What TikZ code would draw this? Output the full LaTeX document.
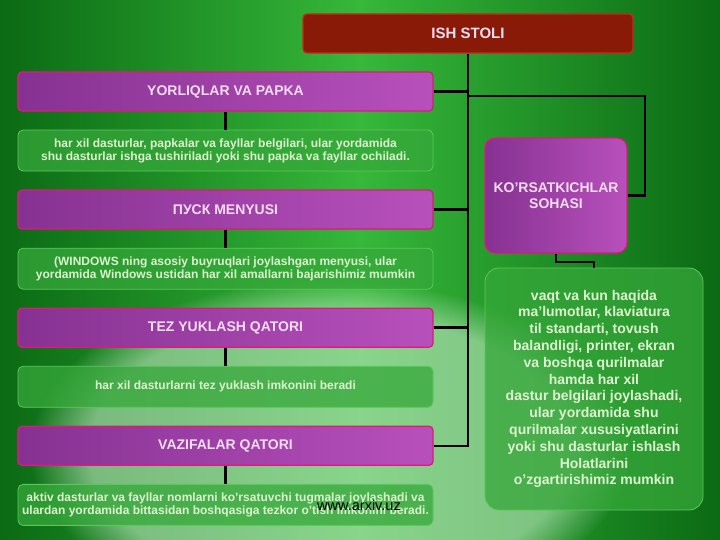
\documentclass[tikz,border=0pt]{standalone}
\usepackage{fontspec}
\setsansfont{Liberation Sans}
\usetikzlibrary{positioning,fadings}
\definecolor{bgdark}{HTML}{0B6A14}
\definecolor{bgmid}{HTML}{36B83A}
\definecolor{plum}{HTML}{863292}
\definecolor{plumlight}{HTML}{B850BC}
\definecolor{rim}{HTML}{E0187C}
\definecolor{rust}{HTML}{8A1A08}
\definecolor{rustrim}{HTML}{C8281A}
\definecolor{leaf}{HTML}{36A83A}
\definecolor{leafrim}{HTML}{5CC85C}
\definecolor{pale}{HTML}{DDF2CF}
\definecolor{blush}{HTML}{F4DDF2}

\begin{document}
\begin{tikzpicture}[x=1pt,y=1pt,
						head/.style={rectangle,rounded corners=4pt,draw=rim,line width=1.3pt,left color=plum,right color=plumlight,text=blush,font=\sffamily\bfseries\fontsize{14}{16}\selectfont,minimum width=415pt,minimum height=39pt,inner sep=2pt},
						note/.style={rectangle,rounded corners=5pt,draw=leafrim,line width=0.8pt,fill=leaf,fill opacity=0.75,text opacity=1,text=pale,font=\sffamily\bfseries\fontsize{12}{13}\selectfont,align=center,minimum width=415pt,minimum height=41pt,inner sep=2pt},
						root/.style={rectangle,rounded corners=4pt,draw=rustrim,line width=1.3pt,fill=rust,text=blush,font=\sffamily\bfseries\fontsize{15}{17}\selectfont,minimum width=330pt,minimum height=39pt},
						link/.style={line width=2.6pt,black}]
		\useasboundingbox (0,0) rectangle (720,-540);
		\fill[left color=bgdark,right color=bgdark,middle color=bgmid] (0,0) rectangle (720,-540);
		\fill[white!75!bgmid,path fading=circle with fuzzy edge 20 percent,opacity=0.55] (330,-450) ellipse (300 and 170);

		\node[root]										(0)	at (468,-33.5)	{ISH STOLI};
		\node[head]										(1)	at (225.5,-91.5)	{YORLIQLAR VA PAPKA};
		\node[note,node distance=18pt,below=of 1]		(2)	{har xil dasturlar, papkalar va fayllar belgilari, ular yordamida\\shu dasturlar ishga tushiriladi yoki shu papka va fayllar ochiladi.};
		\node[head,node distance=18pt,below=of 2]		(3)	{ПУСК MENYUSI};
		\node[note,node distance=18pt,below=of 3]		(4)	{(WINDOWS ning asosiy buyruqlari joylashgan menyusi, ular\\yordamida Windows ustidan har xil amallarni bajarishimiz mumkin};
		\node[head,node distance=18pt,below=of 4]		(5)	{TEZ YUKLASH QATORI};
		\node[note,node distance=18pt,below=of 5]		(6)	{har xil dasturlarni tez yuklash imkonini beradi};
		\node[head,node distance=18pt,below=of 6]		(7)	{VAZIFALAR QATORI};
		\node[note,node distance=18pt,below=of 7]		(8)	{aktiv dasturlar va fayllar nomlarni ko'rsatuvchi tugmalar joylashadi va\\ulardan yordamida bittasidan boshqasiga tezkor o'tish imkonini beradi.};
		\node[head,rounded corners=10pt,minimum width=142pt,minimum height=115pt,align=center]	(9)	at (556,-195.5)	{KO'RSATKICHLAR\\SOHASI};
		\node[note,rounded corners=14pt,minimum width=218pt,minimum height=242pt,font=\sffamily\bfseries\fontsize{14}{16.8}\selectfont]	(10)	at (594,-389)	{vaqt va kun haqida\\ma'lumotlar, klaviatura\\til standarti, tovush\\balandligi, printer, ekran\\va boshqa qurilmalar\\hamda har xil\\dastur belgilari joylashadi,\\ular yordamida shu\\qurilmalar xususiyatlarini\\yoki shu dasturlar ishlash\\Holatlarini\\o'zgartirishimiz mumkin};
		\node[font=\sffamily\fontsize{14.5}{16}\selectfont,text=black]	(11)	at (359,-505)	{www.arxiv.uz};

		\coordinate (c1) at (645,-96);
		\coordinate (c2) at (556,-262);

		\draw[link] (0.south) |- (7.east);
		\draw[link] (1.east) -- (1.east -| 0.south);
		\draw[link] (3.east) -- (3.east -| 0.south);
		\draw[link] (5.east) -- (5.east -| 0.south);
		\draw[link] (c1 -| 0.south) -- (c1) |- (9.east);
		\draw[link] (9.south) -- (c2) -| (10.north);
		\draw[link] (1) -- (2);
		\draw[link] (3) -- (4);
		\draw[link] (5) -- (6);
		\draw[link] (7) -- (8);
	\end{tikzpicture}
\end{document}
